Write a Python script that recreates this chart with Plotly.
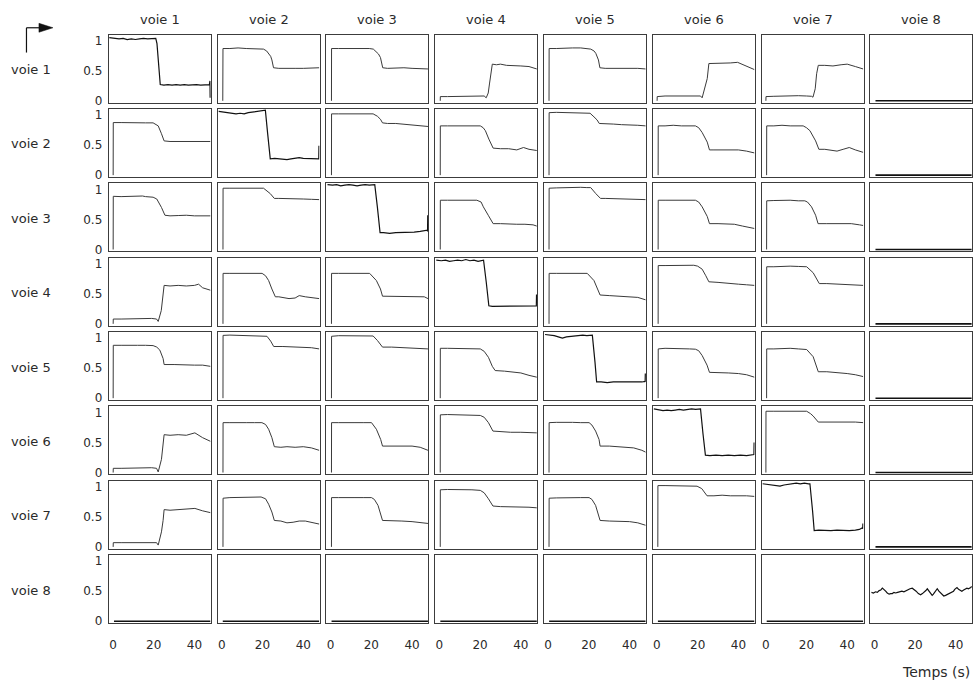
import plotly.graph_objects as go

# ---------------- text / ticks ----------------
col_titles = ["voie 1", "voie 2", "voie 3", "voie 4", "voie 5", "voie 6", "voie 7", "voie 8"]
row_titles = ["voie 1", "voie 2", "voie 3", "voie 4", "voie 5", "voie 6", "voie 7", "voie 8"]
x_tick_vals = [0, 20, 40]
y_tick_vals = [0, 0.5, 1]
y_tick_text = ["0", "0.5", "1"]
x_axis_label = "Temps (s)"

# ---------------- data ----------------
zero_t = [0.5, 47.8]
zero_y = [0, 0]

# row 1
t_r1 = [
    [-1.8, 1, 3, 5, 7, 9, 11, 13, 15, 17, 19, 21, 21.6, 23.2, 25, 27, 29, 31, 33, 35, 37, 39, 41, 43, 45, 47.3, 47.6, 47.7],
    [0.5, 0.6, 4, 8, 12, 16, 19, 20.5, 22, 23, 24, 24.6, 25.4, 28, 32, 36, 40, 44, 47.8],
    [0.45, 0.5, 4, 8, 12, 16, 19, 21, 22.5, 23.5, 24.5, 25, 25.6, 28, 32, 36, 40, 44, 47.8],
    [0.45, 0.5, 4, 8, 12, 16, 20, 22, 23, 24, 24.6, 25.2, 26, 28, 30, 33, 36, 40, 44, 47.8],
    [0.45, 0.5, 4, 8, 12, 16, 19, 20.9, 22.5, 23.4, 24.7, 25.4, 28, 32, 36, 40, 44, 47.8],
    [0.1, 0.15, 4, 8, 12, 16, 19, 21.4, 22.2, 23.1, 24.7, 25.5, 28, 32, 36, 39.6, 43, 47.8],
    [0.1, 0.15, 4, 8, 12, 16, 20, 22.5, 23.2, 24.3, 25, 25.8, 29, 33, 37, 40, 44, 47.8],
    zero_t,
]
y_r1 = [
    [1.05, 1.04, 1.03, 1.04, 1.02, 1.03, 1.02, 1.03, 1.04, 1.03, 1.04, 1.04, 0.95, 0.27, 0.26, 0.27, 0.26, 0.27, 0.26, 0.27, 0.26, 0.27, 0.27, 0.26, 0.27, 0.27, 0.33, 0.05],
    [0, 0.87, 0.87, 0.88, 0.87, 0.87, 0.87, 0.86, 0.83, 0.79, 0.74, 0.68, 0.55, 0.54, 0.545, 0.54, 0.54, 0.545, 0.55],
    [0, 0.87, 0.87, 0.87, 0.88, 0.87, 0.87, 0.86, 0.82, 0.78, 0.72, 0.65, 0.55, 0.54, 0.545, 0.55, 0.54, 0.54, 0.53],
    [0, 0.07, 0.07, 0.075, 0.08, 0.08, 0.085, 0.08, 0.05, 0.13, 0.28, 0.45, 0.61, 0.60, 0.61, 0.59, 0.59, 0.58, 0.57, 0.53],
    [0, 0.87, 0.87, 0.88, 0.88, 0.88, 0.87, 0.86, 0.83, 0.79, 0.68, 0.55, 0.54, 0.54, 0.545, 0.54, 0.54, 0.53],
    [0, 0.07, 0.08, 0.08, 0.085, 0.08, 0.085, 0.08, 0.05, 0.15, 0.37, 0.62, 0.62, 0.62, 0.63, 0.64, 0.59, 0.52],
    [0, 0.07, 0.075, 0.08, 0.08, 0.085, 0.08, 0.075, 0.06, 0.2, 0.45, 0.59, 0.59, 0.58, 0.6, 0.61, 0.57, 0.53],
    zero_y,
]

# row 2
t_r2 = [
    [0.1, 0.15, 4, 8, 12, 16, 19.7, 21, 22.2, 23.8, 25.1, 28, 32, 36, 40, 44, 47.8],
    [-1.5, 1, 3, 5, 7, 9, 11, 13, 15, 17, 19, 20.5, 21.4, 22.5, 23.8, 26, 28, 30, 32, 34, 36, 38, 40, 42, 44, 46, 47.5, 47.6, 47.7],
    [0.45, 0.5, 4, 8, 12, 16, 19, 20.9, 23, 24.5, 25.5, 28, 32, 36, 40, 44, 47.8],
    [0.45, 0.5, 4, 8, 12, 16, 20.1, 21.5, 22.6, 24.3, 25.5, 26.4, 30, 34, 38, 41.3, 44, 47.8],
    [0.45, 0.5, 4, 8, 12, 16, 20.6, 22.5, 24, 25.1, 28, 32, 36, 40, 44, 47.8],
    [0.6, 0.65, 4, 8, 12, 16, 18.9, 20.5, 22.2, 24.7, 25.8, 28, 32, 36, 40, 44, 47.8],
    [0.45, 0.5, 4, 8, 12, 16, 18.4, 20, 21.7, 24.5, 26.1, 29, 33, 35, 38, 41, 44, 47.8],
    zero_t,
]
y_r2 = [
    [0, 0.875, 0.875, 0.87, 0.875, 0.87, 0.87, 0.85, 0.82, 0.69, 0.57, 0.56, 0.56, 0.56, 0.56, 0.56, 0.56],
    [1.06, 1.05, 1.04, 1.03, 1.02, 1.03, 1.02, 1.04, 1.05, 1.06, 1.07, 1.08, 1.08, 0.7, 0.27, 0.28, 0.27, 0.27, 0.26, 0.27, 0.28, 0.29, 0.28, 0.28, 0.28, 0.28, 0.28, 0.27, 0.49],
    [0, 1.02, 1.02, 1.02, 1.02, 1.03, 1.02, 1.02, 0.98, 0.93, 0.87, 0.86, 0.86, 0.85, 0.84, 0.83, 0.81],
    [0, 0.82, 0.82, 0.82, 0.83, 0.82, 0.82, 0.79, 0.74, 0.60, 0.52, 0.45, 0.44, 0.44, 0.42, 0.46, 0.43, 0.41],
    [0, 1.04, 1.045, 1.04, 1.04, 1.035, 1.03, 0.97, 0.92, 0.86, 0.86, 0.85, 0.84, 0.84, 0.83, 0.82],
    [0, 0.82, 0.82, 0.83, 0.82, 0.82, 0.82, 0.79, 0.71, 0.55, 0.42, 0.42, 0.42, 0.43, 0.42, 0.40, 0.37],
    [0, 0.82, 0.82, 0.83, 0.82, 0.82, 0.82, 0.79, 0.74, 0.57, 0.43, 0.43, 0.41, 0.40, 0.43, 0.46, 0.42, 0.38],
    zero_y,
]

# row 3
t_r3 = [
    [0.1, 0.15, 4, 8, 12, 14.5, 16, 19.7, 21.5, 23.8, 25.5, 28, 32, 36, 40, 44, 47.8],
    [0.6, 0.65, 4, 8, 12, 16, 19, 20.5, 23.8, 25.8, 28, 32, 36, 40, 44, 47.8],
    [-1.5, 1, 3, 5, 7, 9, 11, 13, 15, 17, 19, 21, 21.7, 23, 24.3, 26, 29, 32, 35, 38, 41, 44, 46, 47.5, 47.6, 47.7],
    [0.45, 0.5, 4, 8, 12, 16, 18.4, 20.5, 21.6, 24, 26.4, 30, 34, 38, 42, 46, 47.8],
    [0.45, 0.5, 4, 8, 12, 16, 19, 20.9, 23.4, 25.7, 28, 32, 36, 40, 44, 47.8],
    [0.6, 0.65, 4, 8, 12, 16, 18.9, 20.5, 22.2, 24.7, 25.8, 30, 34, 38, 42, 46, 47.8],
    [0.45, 0.5, 4, 8, 12, 16, 19.2, 20.5, 22.5, 24.5, 25.7, 30, 34, 38, 42, 46, 47.8],
    zero_t,
]
y_r3 = [
    [0, 0.885, 0.88, 0.885, 0.88, 0.89, 0.88, 0.87, 0.84, 0.70, 0.57, 0.56, 0.565, 0.57, 0.56, 0.565, 0.56],
    [0, 1.02, 1.02, 1.02, 1.025, 1.03, 1.03, 1.02, 0.93, 0.85, 0.85, 0.85, 0.84, 0.84, 0.835, 0.83],
    [1.08, 1.07, 1.08, 1.06, 1.07, 1.08, 1.07, 1.06, 1.07, 1.08, 1.07, 1.08, 1.08, 0.7, 0.28, 0.28, 0.27, 0.28, 0.28, 0.28, 0.29, 0.30, 0.31, 0.32, 0.30, 0.57],
    [0, 0.82, 0.82, 0.82, 0.83, 0.82, 0.82, 0.79, 0.71, 0.57, 0.43, 0.43, 0.42, 0.42, 0.42, 0.41, 0.39],
    [0, 1.02, 1.025, 1.03, 1.03, 1.035, 1.03, 1.03, 0.93, 0.85, 0.85, 0.845, 0.84, 0.84, 0.835, 0.83],
    [0, 0.82, 0.82, 0.82, 0.83, 0.82, 0.82, 0.79, 0.71, 0.55, 0.43, 0.43, 0.43, 0.42, 0.39, 0.37, 0.35],
    [0, 0.81, 0.815, 0.82, 0.82, 0.81, 0.81, 0.79, 0.71, 0.57, 0.43, 0.43, 0.43, 0.42, 0.43, 0.41, 0.40],
    zero_y,
]

# row 4
t_r4 = [
    [0.1, 0.15, 4, 8, 12, 16, 19, 21.4, 22.2, 23.7, 24.6, 25.1, 28, 32, 36, 40, 42, 44, 47.8],
    [0.6, 0.65, 4, 8, 12, 16, 19.8, 21.5, 23, 24.6, 26.3, 28, 30, 33, 36, 38, 41, 44, 47.8],
    [0.45, 0.5, 4, 8, 12, 16, 19.2, 22.5, 24.5, 25.5, 30, 34, 38, 42, 46, 47.8],
    [-1.5, 1, 3, 5, 7, 9, 11, 13, 15, 17, 19, 21, 21.7, 23, 24.3, 26, 29, 32, 35, 38, 41, 44, 46, 47.5, 47.6, 47.7],
    [0.45, 0.5, 4, 8, 12, 16, 18.4, 19.2, 22.5, 24.1, 25.5, 30, 35, 40, 44, 47.8],
    [0.6, 0.65, 4, 8, 12, 16, 18.1, 20, 22.2, 24, 25.5, 30, 35, 40, 44, 47.8],
    [0.45, 0.5, 4, 8, 12, 16, 20.1, 23.3, 25, 26.3, 30, 35, 40, 44, 47.8],
    zero_t,
]
y_r4 = [
    [0, 0.08, 0.08, 0.085, 0.08, 0.085, 0.09, 0.08, 0.04, 0.22, 0.44, 0.64, 0.63, 0.64, 0.63, 0.64, 0.66, 0.60, 0.56],
    [0, 0.84, 0.84, 0.84, 0.845, 0.84, 0.84, 0.80, 0.72, 0.58, 0.45, 0.45, 0.44, 0.42, 0.43, 0.47, 0.45, 0.44, 0.42],
    [0, 0.84, 0.84, 0.84, 0.845, 0.84, 0.84, 0.72, 0.58, 0.46, 0.46, 0.46, 0.45, 0.46, 0.45, 0.42],
    [1.06, 1.05, 1.06, 1.04, 1.05, 1.06, 1.05, 1.07, 1.05, 1.06, 1.04, 1.05, 1.06, 0.7, 0.30, 0.29, 0.29, 0.30, 0.29, 0.29, 0.30, 0.29, 0.29, 0.29, 0.30, 0.49],
    [0, 0.84, 0.84, 0.84, 0.84, 0.84, 0.85, 0.84, 0.72, 0.58, 0.48, 0.47, 0.46, 0.45, 0.44, 0.40],
    [0, 0.97, 0.97, 0.97, 0.975, 0.97, 0.975, 0.96, 0.91, 0.80, 0.70, 0.69, 0.67, 0.66, 0.65, 0.64],
    [0, 0.95, 0.95, 0.96, 0.96, 0.955, 0.95, 0.85, 0.75, 0.67, 0.67, 0.66, 0.65, 0.65, 0.64],
    zero_y,
]

# row 5
t_r5 = [
    [0.1, 0.15, 4, 8, 12, 16, 19.7, 21.5, 23, 24.6, 25.1, 30, 35, 40, 44, 47.8],
    [0.6, 0.65, 4, 8, 12, 16, 20, 22.2, 24, 25.5, 30, 35, 40, 44, 47.8],
    [0.45, 0.5, 4, 8, 12, 16, 20.9, 23, 25.5, 30, 35, 40, 44, 47.8],
    [0.45, 0.5, 4, 8, 12, 16, 20.1, 22, 24.1, 26, 27.4, 32, 36, 40, 44, 47.8],
    [-1.5, 1, 3, 5, 7, 9, 11, 13, 15, 17, 19, 21, 21.7, 23, 23.8, 26, 29, 32, 35, 38, 41, 44, 46, 47.5, 47.6, 47.7],
    [0.6, 0.65, 4, 8, 12, 16, 18.9, 20.5, 22.2, 24.6, 25.8, 30, 35, 40, 44, 47.8],
    [0.45, 0.5, 4, 8, 12, 16, 20.1, 23.3, 25.8, 30, 35, 40, 44, 47.8],
    zero_t,
]
y_r5 = [
    [0, 0.88, 0.88, 0.885, 0.88, 0.88, 0.875, 0.85, 0.80, 0.66, 0.56, 0.56, 0.55, 0.55, 0.55, 0.53],
    [0, 1.045, 1.05, 1.045, 1.04, 1.04, 1.035, 1.03, 0.95, 0.86, 0.86, 0.85, 0.85, 0.84, 0.82],
    [0, 1.03, 1.04, 1.04, 1.045, 1.04, 1.035, 0.96, 0.85, 0.85, 0.84, 0.84, 0.83, 0.82],
    [0, 0.83, 0.83, 0.83, 0.83, 0.83, 0.82, 0.78, 0.68, 0.53, 0.46, 0.45, 0.44, 0.42, 0.38, 0.35],
    [1.06, 1.05, 1.04, 1.02, 1.00, 1.02, 1.03, 1.04, 1.04, 1.05, 1.04, 1.05, 1.05, 0.6, 0.27, 0.27, 0.26, 0.27, 0.27, 0.26, 0.27, 0.27, 0.27, 0.28, 0.27, 0.41],
    [0, 0.82, 0.83, 0.83, 0.83, 0.82, 0.815, 0.79, 0.71, 0.55, 0.43, 0.43, 0.42, 0.41, 0.39, 0.35],
    [0, 0.82, 0.82, 0.83, 0.83, 0.82, 0.81, 0.69, 0.44, 0.44, 0.43, 0.41, 0.39, 0.36],
    zero_y,
]

# row 6
t_r6 = [
    [0.1, 0.15, 4, 8, 12, 16, 19, 21.4, 22.2, 23.8, 24.6, 25.1, 28, 32, 36, 40.2, 44, 47.8],
    [0.6, 0.65, 4, 8, 12, 16, 19.7, 21.5, 23, 24.6, 25.8, 29, 32, 36, 40, 44, 47.8],
    [0.45, 0.5, 4, 8, 12, 16, 20.1, 22.5, 24.6, 25.5, 30, 35, 40, 44, 47.8],
    [0.45, 0.5, 4, 8, 12, 16, 20.1, 22, 24.1, 26.3, 30, 35, 40, 44, 47.8],
    [0.45, 0.5, 4, 8, 12, 16, 20.1, 21.5, 23.3, 25, 25.5, 30, 34, 38, 42, 46, 47.8],
    [-1.5, 1, 3, 5, 7, 9, 11, 13, 15, 17, 19, 21, 21.4, 22.6, 23.8, 26, 29, 32, 35, 38, 41, 44, 46, 47.5, 47.6, 47.7],
    [0.1, 0.15, 4, 8, 12, 16, 20.1, 22, 23.3, 25.8, 30, 35, 40, 44, 47.8],
    zero_t,
]
y_r6 = [
    [0, 0.07, 0.07, 0.075, 0.07, 0.075, 0.08, 0.07, 0.01, 0.22, 0.44, 0.63, 0.62, 0.63, 0.62, 0.66, 0.58, 0.52],
    [0, 0.83, 0.83, 0.835, 0.83, 0.83, 0.83, 0.80, 0.72, 0.58, 0.43, 0.42, 0.43, 0.42, 0.43, 0.41, 0.37],
    [0, 0.83, 0.83, 0.835, 0.83, 0.83, 0.83, 0.72, 0.55, 0.44, 0.44, 0.44, 0.44, 0.42, 0.37],
    [0, 0.96, 0.965, 0.96, 0.96, 0.955, 0.95, 0.92, 0.83, 0.69, 0.68, 0.67, 0.67, 0.67, 0.66],
    [0, 0.83, 0.835, 0.84, 0.835, 0.83, 0.83, 0.79, 0.69, 0.55, 0.44, 0.44, 0.43, 0.43, 0.41, 0.37, 0.34],
    [1.06, 1.05, 1.03, 1.04, 1.03, 1.04, 1.05, 1.04, 1.05, 1.06, 1.05, 1.06, 1.06, 0.65, 0.29, 0.28, 0.29, 0.28, 0.29, 0.28, 0.29, 0.28, 0.29, 0.29, 0.30, 0.50],
    [0, 1.02, 1.02, 1.02, 1.02, 1.02, 1.02, 0.98, 0.94, 0.84, 0.84, 0.84, 0.85, 0.84, 0.83],
    zero_y,
]

# row 7
t_r7 = [
    [0.1, 0.15, 4, 8, 12, 16, 19, 21.4, 22.2, 23.8, 24.6, 25.1, 28, 32, 36, 40.2, 44, 47.8],
    [0.6, 0.65, 4, 8, 12, 16, 19.3, 21.5, 23, 24.6, 25.8, 29, 32, 35, 38, 41, 44, 47.8],
    [0.45, 0.5, 4, 8, 12, 16, 20.1, 21.5, 23.3, 25.5, 30, 35, 40, 44, 47.8],
    [0.45, 0.5, 4, 8, 12, 16, 20.1, 22, 24.1, 26.3, 30, 35, 40, 44, 47.8],
    [0.45, 0.5, 4, 8, 12, 16, 20.1, 21.5, 23.3, 25, 25.5, 30, 35, 40, 44, 47.8],
    [0.45, 0.5, 4, 8, 12, 16, 19.7, 22, 24.6, 28, 32, 36, 40, 44, 47.8],
    [-1.5, 1, 3, 5, 7, 9, 11, 13, 15, 17, 19, 21, 21.7, 23, 23.8, 26, 29, 32, 35, 38, 41, 44, 46, 47.5, 47.6, 47.7],
    zero_t,
]
y_r7 = [
    [0, 0.07, 0.07, 0.07, 0.07, 0.07, 0.07, 0.07, 0.03, 0.25, 0.44, 0.62, 0.61, 0.62, 0.62, 0.64, 0.60, 0.57],
    [0, 0.81, 0.82, 0.82, 0.825, 0.83, 0.83, 0.80, 0.71, 0.58, 0.44, 0.43, 0.40, 0.41, 0.43, 0.43, 0.41, 0.38],
    [0, 0.82, 0.82, 0.825, 0.82, 0.82, 0.82, 0.79, 0.69, 0.44, 0.44, 0.43, 0.42, 0.41, 0.39],
    [0, 0.95, 0.955, 0.955, 0.95, 0.95, 0.94, 0.90, 0.80, 0.68, 0.67, 0.67, 0.66, 0.66, 0.65],
    [0, 0.81, 0.815, 0.82, 0.82, 0.82, 0.82, 0.79, 0.69, 0.47, 0.44, 0.43, 0.43, 0.42, 0.40, 0.36],
    [0, 1.02, 1.02, 1.02, 1.02, 1.02, 1.01, 0.97, 0.85, 0.85, 0.86, 0.85, 0.855, 0.85, 0.84],
    [1.05, 1.04, 1.03, 1.02, 1.01, 1.03, 1.04, 1.05, 1.06, 1.05, 1.06, 1.05, 1.05, 0.6, 0.27, 0.28, 0.27, 0.27, 0.28, 0.27, 0.27, 0.28, 0.29, 0.32, 0.30, 0.39],
    zero_y,
]

# row 8
t_r8 = [zero_t, zero_t, zero_t, zero_t, zero_t, zero_t, zero_t,
        [-1.5, -0.5, 0.5, 1.4, 2.3, 3.1, 3.9, 4.7, 5.5, 6.3, 7.2, 8.0, 8.8, 9.6, 10.4, 11.4, 12.5, 13.5, 14.5, 15.5,
         16.5, 17.5, 18.6, 19.5, 20.5, 21.6, 22.7, 23.6, 24.5, 25.3, 26.0, 26.6, 27.2, 27.8, 28.4, 29.0, 29.6, 30.3,
         30.9, 31.7, 32.5, 33.3, 34.1, 35.0, 36.0, 37.1, 38.2, 38.9, 39.5, 40.1, 40.6, 41.4, 42.2, 43.0, 43.9, 44.7,
         45.5, 46.2, 47.0, 47.4, 47.8]]
y_r8 = [zero_y, zero_y, zero_y, zero_y, zero_y, zero_y, zero_y,
        [0.48, 0.47, 0.49, 0.48, 0.51, 0.52, 0.55, 0.53, 0.50, 0.47, 0.45, 0.46, 0.46, 0.48, 0.47, 0.48, 0.49, 0.50,
         0.49, 0.51, 0.52, 0.54, 0.55, 0.53, 0.50, 0.46, 0.44, 0.46, 0.48, 0.51, 0.54, 0.51, 0.48, 0.44, 0.43, 0.45,
         0.48, 0.51, 0.54, 0.50, 0.47, 0.44, 0.42, 0.43, 0.45, 0.46, 0.48, 0.50, 0.53, 0.55, 0.56, 0.53, 0.51, 0.50,
         0.52, 0.53, 0.55, 0.54, 0.55, 0.56, 0.58]]

T_ROWS = [t_r1, t_r2, t_r3, t_r4, t_r5, t_r6, t_r7, t_r8]
Y_ROWS = [y_r1, y_r2, y_r3, y_r4, y_r5, y_r6, y_r7, y_r8]

# ---------------- layout geometry (pixels) ----------------
W, H = 973, 688
LEFT0, PITCH_X, BOX_W = 109, 108.9, 102
TOP0, PITCH_Y, BOX_H = 34, 75, 68.5
X_RANGE = [-2, 48]
Y_RANGE = [-0.03, 1.1]

FONT = "DejaVu Sans"
TXT = "#2a2a2a"
BORDER = "#3c3c3c"

fig = go.Figure()
layout = dict(
    width=W, height=H, autosize=False,
    margin=dict(l=0, r=0, t=0, b=0),
    paper_bgcolor="white", plot_bgcolor="white",
    showlegend=False,
    font=dict(family=FONT, size=12, color=TXT),
)

n = len(T_ROWS)
for r in range(n):
    for c in range(n):
        k = r * n + c + 1
        xs = "" if k == 1 else str(k)
        xa, ya = "x" + xs, "y" + xs
        is_zero = Y_ROWS[r][c] is zero_y
        is_diag = (r == c)
        fig.add_trace(go.Scatter(
            x=T_ROWS[r][c], y=Y_ROWS[r][c], mode="lines",
            line=dict(color="#111111" if (is_diag or is_zero) else "#3a3a3a",
                      width=1.6 if is_zero else (1.2 if is_diag else 1.0)),
            xaxis=xa, yaxis=ya, hoverinfo="skip", showlegend=False,
        ))
        x0 = (LEFT0 + c * PITCH_X) / W
        x1 = min(1.0, (LEFT0 + c * PITCH_X + BOX_W) / W)
        top = TOP0 + r * PITCH_Y
        y1 = 1 - top / H
        y0 = 1 - (top + BOX_H) / H
        layout["xaxis" + xs] = dict(
            domain=[x0, x1], anchor=ya, range=X_RANGE,
            showgrid=False, zeroline=False, showline=True, mirror=True,
            linecolor=BORDER, linewidth=1.4, ticks="",
            tickvals=x_tick_vals, showticklabels=(r == n - 1),
            tickfont=dict(family=FONT, size=12, color=TXT),
            ticklabelstandoff=10, fixedrange=True,
        )
        layout["yaxis" + xs] = dict(
            domain=[y0, y1], anchor=xa, range=Y_RANGE,
            showgrid=False, zeroline=False, showline=True, mirror=True,
            linecolor=BORDER, linewidth=1.4, ticks="",
            tickvals=y_tick_vals, ticktext=y_tick_text, showticklabels=(c == 0),
            tickfont=dict(family=FONT, size=12, color=TXT),
            ticklabelstandoff=3, fixedrange=True,
        )

annotations = []
for c, title in enumerate(col_titles):
    cx = (LEFT0 + c * PITCH_X + BOX_W / 2) / W
    annotations.append(dict(text=title, x=cx, y=1 - 19 / H, xref="paper", yref="paper",
                            xanchor="center", yanchor="middle", showarrow=False,
                            font=dict(family=FONT, size=13, color=TXT)))
for r, title in enumerate(row_titles):
    cy = 1 - (TOP0 + r * PITCH_Y + BOX_H / 2 + 1) / H
    annotations.append(dict(text=title, x=31 / W, y=cy, xref="paper", yref="paper",
                            xanchor="center", yanchor="middle", showarrow=False,
                            font=dict(family=FONT, size=13, color=TXT)))
annotations.append(dict(text=x_axis_label, x=1.0, y=1 - 677 / H, xref="paper", yref="paper",
                        xanchor="right", yanchor="middle", showarrow=False,
                        font=dict(family=FONT, size=14, color=TXT)))
layout["annotations"] = annotations


def px(xp, yp):
    return xp / W, 1 - yp / H


ax0, ay0 = px(26.5, 52)
ax1, ay1 = px(26.5, 27)
ax2, _ = px(39, 27)
tipx, tipy = px(53, 27)
_, up = px(0, 22.5)
_, dn = px(0, 31.5)
layout["shapes"] = [
    dict(type="line", xref="paper", yref="paper", x0=ax0, y0=ay0, x1=ax1, y1=ay1,
         line=dict(color="#111111", width=1.2)),
    dict(type="line", xref="paper", yref="paper", x0=ax1, y0=ay1, x1=ax2, y1=ay1,
         line=dict(color="#111111", width=1.2)),
    dict(type="path", xref="paper", yref="paper",
         path=f"M {ax2} {up} L {tipx} {tipy} L {ax2} {dn} Z",
         fillcolor="#111111", line=dict(color="#111111", width=0.5)),
]

fig.update_layout(**layout)
fig.write_html("out.html")
